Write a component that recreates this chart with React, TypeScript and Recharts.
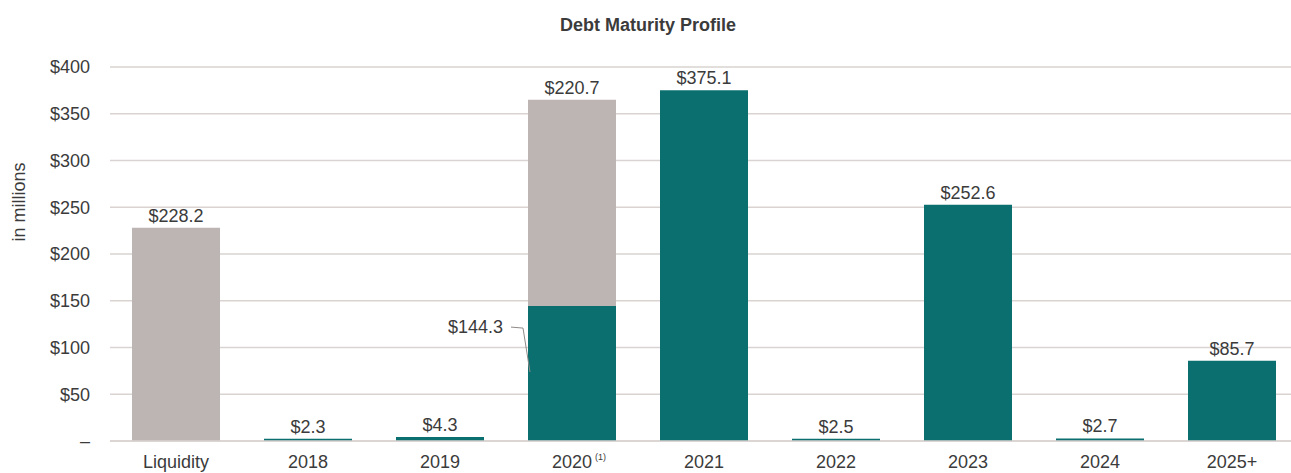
import { BarChart, Bar, XAxis, YAxis, CartesianGrid, LabelList } from 'recharts'

const categories = ['Liquidity', '2018', '2019', '2020', '2021', '2022', '2023', '2024', '2025+']
const footnotes = ['', '', '', '(1)', '', '', '', '', '']
const maturities = [0, 2.3, 4.3, 144.3, 375.1, 2.5, 252.6, 2.7, 85.7]
const liquidity = [228.2, 0, 0, 220.7, 0, 0, 0, 0, 0]
const yTicks = [0, 50, 100, 150, 200, 250, 300, 350, 400]

const TEAL = '#0b6f6f'
const GREY = '#bdb5b3'
const GRID = '#d9d3d1'
const TEXT = '#3b3b3b'
const FONT = "'Liberation Sans', Arial, sans-serif"

const data = categories.map((name, i) => ({
  name,
  note: footnotes[i],
  maturity: maturities[i],
  liquidity: liquidity[i],
}))

const fmt = (v: number) => `$${v.toFixed(1)}`

// which value goes on top of the bar and which one is pulled out to the side
const topMaturity = (d: any) => (d.liquidity ? null : d.maturity || null)
const sideMaturity = (d: any) => (d.liquidity && d.maturity ? d.maturity : null)

const topLabel = (props: any) => {
  const { x, y, width, value } = props
  if (!value) return null
  return (
    <text x={x + width / 2} y={y - 6} textAnchor="middle" fill={TEXT} fontSize={18} fontFamily={FONT}>
      {fmt(value)}
    </text>
  )
}

// maturity hidden under the liquidity block: label to the left with a leader line
const sideLabel = (props: any) => {
  const { x, y, value } = props
  if (!value) return null
  const ty = y + 21
  return (
    <g>
      <text x={x - 25} y={ty} textAnchor="end" dominantBaseline="central" fill={TEXT} fontSize={18} fontFamily={FONT}>
        {fmt(value)}
      </text>
      <polyline
        points={`${x - 17},${ty} ${x - 5},${ty + 1} ${x + 2},${ty + 45}`}
        fill="none"
        stroke="#8f8a88"
        strokeWidth={1}
      />
    </g>
  )
}

const XTick = (props: any) => {
  const { x, y, payload, index } = props
  const note = footnotes[index]
  return (
    <g>
      <text x={x} y={y} dy="0.71em" textAnchor="middle" fill={TEXT} fontSize={18} fontFamily={FONT}>
        {payload.value}
      </text>
      {note && (
        <text x={x + 23} y={y - 1} dy="0.71em" fill={TEXT} fontSize={9} fontFamily={FONT}>
          {note}
        </text>
      )}
    </g>
  )
}

export default function App() {
  return (
    <div style={{ position: 'absolute', left: 0, top: 0, width: 1291, height: 473, overflow: 'hidden', background: '#fff' }}>
      <div
        style={{
          position: 'absolute',
          left: 0,
          width: 1296,
          top: 13,
          textAlign: 'center',
          fontFamily: FONT,
          fontWeight: 'bold',
          fontSize: 18,
          color: TEXT,
          lineHeight: '24px',
        }}
      >
        Debt Maturity Profile
      </div>
      <BarChart
        width={1298}
        height={473}
        data={data}
        margin={{ top: 67, right: 0, bottom: 0, left: 0 }}
        barSize={88}
      >
        <CartesianGrid vertical={false} stroke={GRID} strokeWidth={1.5} />
        <XAxis
          dataKey="name"
          axisLine={{ stroke: GRID, strokeWidth: 1.5 }}
          tickLine={false}
          tickSize={0}
          tickMargin={14}
          height={32}
          tick={<XTick />}
          interval={0}
        />
        <YAxis
          domain={[0, 400]}
          ticks={yTicks}
          width={110}
          axisLine={false}
          tickLine={false}
          tickSize={0}
          tickMargin={20}
          tick={{ fill: TEXT, fontSize: 18, fontFamily: FONT }}
          tickFormatter={(v: number) => (v === 0 ? '–' : `$${v}`)}
          label={{
            value: 'in millions',
            angle: -90,
            position: 'insideLeft',
            offset: 19,
            dy: -52,
            style: { textAnchor: 'middle', fill: TEXT, fontSize: 18, fontFamily: FONT },
          }}
        />
        <Bar dataKey="maturity" stackId="a" fill={TEAL} isAnimationActive={false}>
          <LabelList dataKey={topMaturity} content={topLabel} />
          <LabelList dataKey={sideMaturity} content={sideLabel} />
        </Bar>
        <Bar dataKey="liquidity" stackId="a" fill={GREY} isAnimationActive={false}>
          <LabelList dataKey="liquidity" content={topLabel} />
        </Bar>
      </BarChart>
    </div>
  )
}
